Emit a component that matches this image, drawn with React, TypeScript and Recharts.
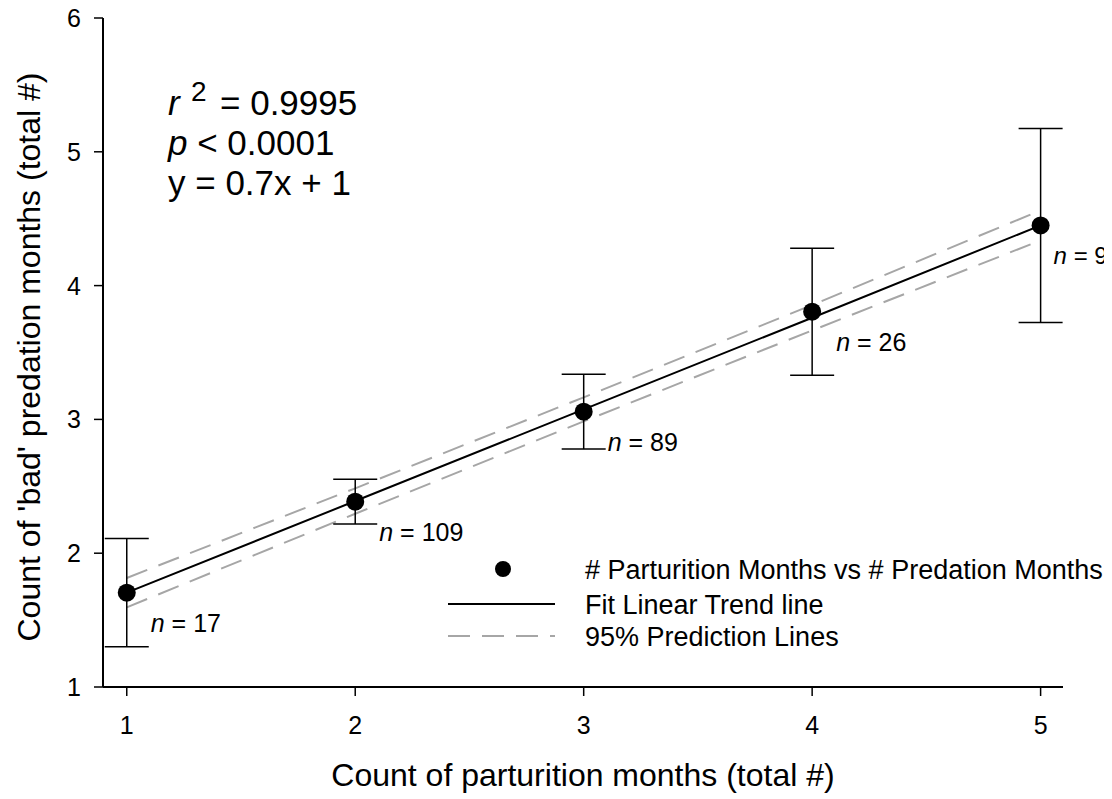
import React from 'react';
import { ComposedChart, Line, Scatter, XAxis, YAxis, ErrorBar } from 'recharts';

const xValues = [1, 2, 3, 4, 5];
const meanValues = [1.705, 2.385, 3.058, 3.805, 4.45];
const errValues = [0.405, 0.167, 0.28, 0.475, 0.725];
const nLabels = ['17', '109', '89', '26', '9'];
const fitValues = [1.705, 2.39, 3.075, 3.76, 4.45];
const upperValues = [1.815, 2.485, 3.165, 3.855, 4.562];
const lowerValues = [1.595, 2.295, 2.985, 3.665, 4.338];
const xTicks = [1, 2, 3, 4, 5];
const yTicks = [1, 2, 3, 4, 5, 6];

const points = xValues.map((x, i) => ({ x, y: meanValues[i], err: errValues[i], n: nLabels[i] }));
const lineData = xValues.map((x, i) => ({ x, fit: fitValues[i], upper: upperValues[i], lower: lowerValues[i] }));

const FONT = '"Liberation Sans", Arial, Helvetica, sans-serif';
const W = 1104;
const H = 791;
const GRAY = '#a6a6a6';

const PointShape = (props: any) => {
  const { cx, cy, payload } = props;
  if (cx == null || cy == null) return null;
  const dx = cx > 1000 ? 13 : 24;
  return (
    <g>
      <circle cx={cx} cy={cy} r={9} fill="#000" />
      <text x={cx + dx} y={cy + 39} fontSize={cx > 1000 ? 24 : 25} fontFamily={FONT} fill="#000">
        <tspan fontStyle="italic">n</tspan> = {payload.n}
      </text>
    </g>
  );
};

const XTick = (props: any) => {
  const { x, y, payload } = props;
  return (
    <text x={x} y={y} dy={38} textAnchor="middle" fontSize={25} fontFamily={FONT} fill="#000">
      {payload.value}
    </text>
  );
};

const YTick = (props: any) => {
  const { x, y, payload } = props;
  return (
    <text x={x} y={y} dx={-13} dy={9} textAnchor="end" fontSize={25} fontFamily={FONT} fill="#000">
      {payload.value}
    </text>
  );
};

export default function App() {
  return (
    <div style={{ position: 'relative', width: W, height: H }}>
      <style>{'.recharts-surface { overflow: visible; }'}</style>
      <ComposedChart
        width={W}
        height={H}
        data={lineData}
        margin={{ top: 10, right: 49, bottom: 0, left: 0 }}
      >
        <XAxis
          type="number"
          dataKey="x"
          domain={[0.896, 5.098]}
          ticks={xTicks}
          height={112}
          tickSize={9}
          tickMargin={0}
          axisLine={{ stroke: '#000', strokeWidth: 2 }}
          tickLine={{ stroke: '#000', strokeWidth: 1.5 }}
          tick={XTick}
          label={{ value: 'Count of parturition months (total #)', position: 'insideBottom', offset: 13, fill: '#000', fontSize: 32, fontFamily: FONT }}
        />
        <YAxis
          type="number"
          domain={[1, 6]}
          ticks={yTicks}
          width={95}
          tickSize={9}
          tickMargin={0}
          axisLine={{ stroke: '#000', strokeWidth: 2 }}
          tickLine={{ stroke: '#000', strokeWidth: 1.5 }}
          tick={YTick}
        />
        <Line dataKey="upper" type="linear" stroke={GRAY} strokeWidth={2} strokeDasharray="22 12" dot={false} activeDot={false} isAnimationActive={false} />
        <Line dataKey="lower" type="linear" stroke={GRAY} strokeWidth={2} strokeDasharray="22 12" dot={false} activeDot={false} isAnimationActive={false} />
        <Line dataKey="fit" type="linear" stroke="#000" strokeWidth={2} dot={false} activeDot={false} isAnimationActive={false} />
        <Scatter data={points} dataKey="y" shape={PointShape} isAnimationActive={false}>
          <ErrorBar dataKey="err" direction="y" width={22} stroke="#000" strokeWidth={1.5} isAnimationActive={false} />
        </Scatter>
      </ComposedChart>
      <svg width={W} height={H} style={{ position: 'absolute', left: 0, top: 0, pointerEvents: 'none', overflow: 'visible' }}>
        <text x={0} y={0} transform="translate(32,349) rotate(-90)" textAnchor="middle" fontSize={32} fontFamily={FONT} fill="#000">
          Count of 'bad' predation months (total #)
        </text>
        <text x={160} y={107} fontSize={35} fontFamily={FONT} fill="#000" fontStyle="italic">r</text>
        <text x={183} y={93} fontSize={28} fontFamily={FONT} fill="#000">2</text>
        <text x={212} y={107} fontSize={35} fontFamily={FONT} fill="#000">= 0.9995</text>
        <text x={160} y={147} fontSize={35} fontFamily={FONT} fill="#000"><tspan fontStyle="italic">p</tspan> &lt; 0.0001</text>
        <text x={160} y={187} fontSize={35} fontFamily={FONT} fill="#000">y = 0.7x + 1</text>

        <circle cx={495} cy={561} r={8} fill="#000" />
        <text x={577} y={571} fontSize={27} fontFamily={FONT} fill="#000"># Parturition Months vs # Predation Months</text>
        <line x1={440} x2={547} y1={596} y2={596} stroke="#000" strokeWidth={2} />
        <text x={577} y={606} fontSize={27} fontFamily={FONT} fill="#000">Fit Linear Trend line</text>
        <line x1={440} x2={547} y1={628} y2={628} stroke={GRAY} strokeWidth={2} strokeDasharray="22 12" />
        <text x={577} y={638} fontSize={27} fontFamily={FONT} fill="#000">95% Prediction Lines</text>
      </svg>
    </div>
  );
}
